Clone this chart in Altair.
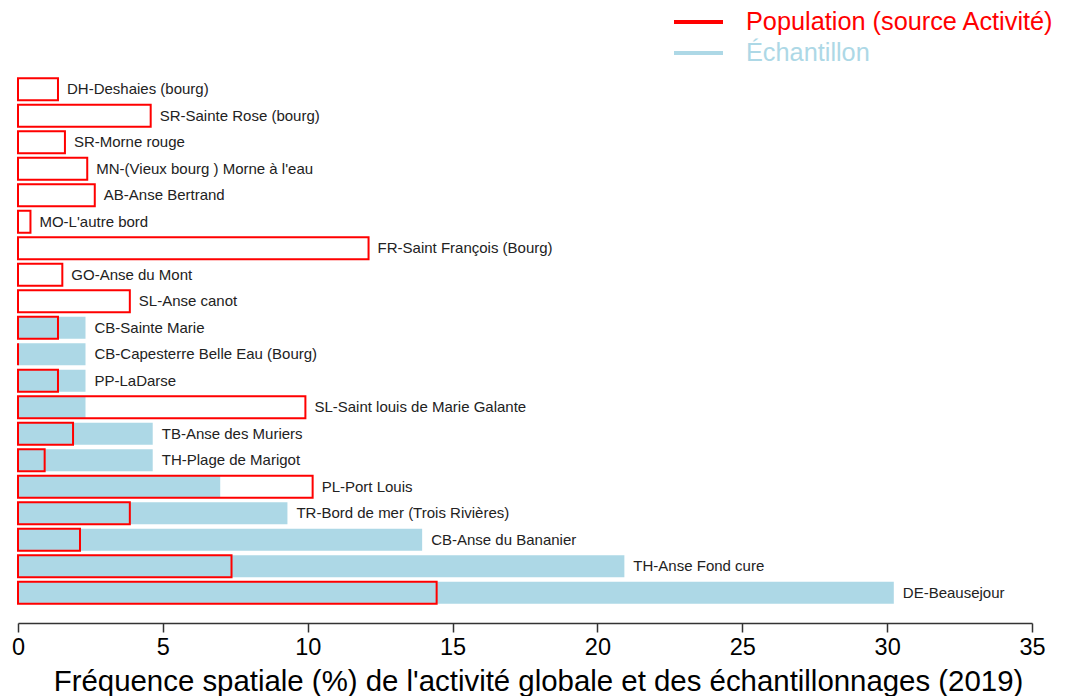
import altair as alt
import pandas as pd

sites = [
    "DH-Deshaies (bourg)",
    "SR-Sainte Rose (bourg)",
    "SR-Morne rouge",
    "MN-(Vieux bourg ) Morne à l'eau",
    "AB-Anse Bertrand",
    "MO-L'autre bord",
    "FR-Saint François (Bourg)",
    "GO-Anse du Mont",
    "SL-Anse canot",
    "CB-Sainte Marie",
    "CB-Capesterre Belle Eau (Bourg)",
    "PP-LaDarse",
    "SL-Saint louis de Marie Galante",
    "TB-Anse des Muriers",
    "TH-Plage de Marigot",
    "PL-Port Louis",
    "TR-Bord de mer (Trois Rivières)",
    "CB-Anse du Bananier",
    "TH-Anse Fond cure",
    "DE-Beausejour",
]
population = [1.38, 4.58, 1.62, 2.39, 2.65, 0.43, 12.10, 1.53, 3.86, 1.38,
              0.0, 1.38, 9.92, 1.90, 0.92, 10.17, 3.86, 2.14, 7.37, 14.45]
echantillon = [0, 0, 0, 0, 0, 0, 0, 0, 0, 2.33,
               2.33, 2.33, 2.33, 4.65, 4.65, 6.98, 9.30, 13.95, 20.93, 30.23]

LEG_POP = "Population (source Activité)"
LEG_ECH = "Échantillon"
FONT = "Liberation Sans"

df = pd.DataFrame({"site": sites, "pop": population, "ech": echantillon})
df["maxv"] = df[["pop", "ech"]].max(axis=1)
df["leg_pop"] = LEG_POP
df["leg_ech"] = LEG_ECH

yenc = alt.Y("site:N", sort=sites, axis=None,
             scale=alt.Scale(paddingInner=0.17, paddingOuter=0.085))

xaxis = alt.Axis(values=list(range(0, 36, 5)), grid=False, tickSize=9,
                 tickWidth=1.5, tickColor="#333", domainColor="#333",
                 domainWidth=1.5, labelFontSize=23.5, labelFont=FONT,
                 labelColor="#000", labelPadding=3, labelFlush=False,
                 title="Fréquence spatiale (%) de l'activité globale et des échantillonnages (2019)",
                 titleFontSize=29.4, titleFont=FONT, titleFontWeight="normal",
                 titleColor="#000", titlePadding=9, titleX=520, offset=17)

leg_common = dict(title=None, orient="none", symbolType="stroke", symbolSize=2401,
                  symbolStrokeWidth=4, labelFontSize=25.3, labelFont=FONT,
                  labelOffset=21, padding=0, labelLimit=0)

blue = alt.Chart(df).mark_bar().encode(
    x=alt.X("ech:Q", scale=alt.Scale(domain=[0, 35], nice=False), axis=xaxis),
    y=yenc,
    fill=alt.Fill("leg_ech:N", scale=alt.Scale(domain=[LEG_ECH], range=["#ADD8E6"]),
                  legend=alt.Legend(legendX=654, legendY=-49.5,
                                    symbolStrokeColor="#ADD8E6",
                                    labelColor="#ADD8E6", **leg_common)),
)

red = alt.Chart(df).mark_bar(fill="transparent", strokeWidth=2).encode(
    x=alt.X("pop:Q"),
    y=yenc,
    stroke=alt.Stroke("leg_pop:N", scale=alt.Scale(domain=[LEG_POP], range=["#FF0000"]),
                      legend=alt.Legend(legendX=654, legendY=-80.5,
                                        labelColor="#FF0000", **leg_common)),
)

labels = alt.Chart(df).mark_text(align="left", baseline="middle", dx=9,
                                 fontSize=15, font=FONT, color="#222").encode(
    x=alt.X("maxv:Q"),
    y=yenc,
    text="site:N",
)

chart = alt.layer(blue, red, labels).resolve_scale(
    fill="independent", stroke="independent"
).properties(
    width=1014, height=530,
    autosize=alt.AutoSizeParams(type="none"),
    padding={"left": 10, "top": 68, "right": 30, "bottom": 90},
).configure_view(stroke=None)

chart.save("out.html", embed_options={"renderer": "svg", "actions": False})
